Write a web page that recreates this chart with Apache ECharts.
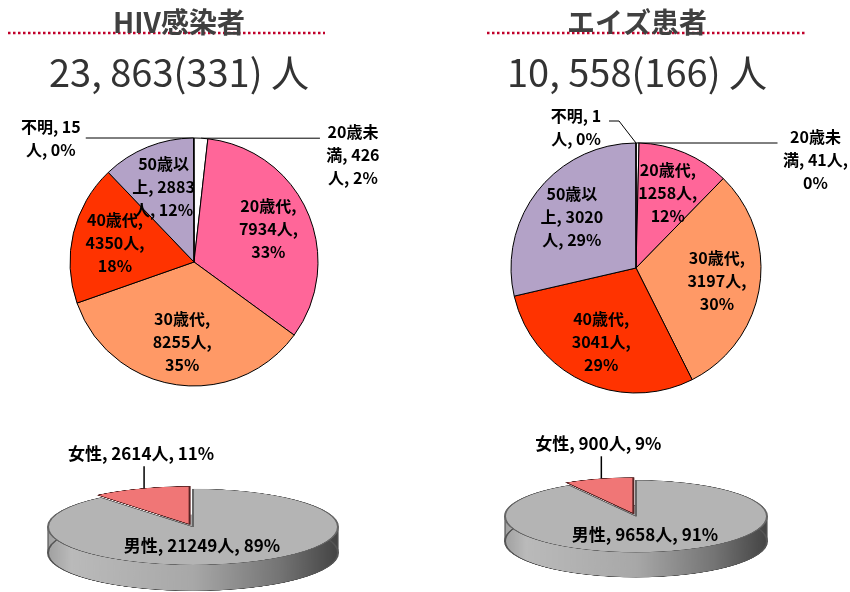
<!DOCTYPE html>
<html>
<head>
<meta charset="utf-8">
<script src="https://cdn.jsdelivr.net/npm/echarts@6/dist/echarts.min.js"></script>
<style>
body { margin: 0; background: #fff; }
#wrap { position: relative; width: 850px; height: 592px; overflow: hidden; }
#main { position: absolute; left: 0; top: 0; width: 850px; height: 592px; z-index: 2; }
.gender { position: absolute; transform-origin: 0 0; z-index: 1; }
</style>
</head>
<body>
<div id="wrap">
    <div class="gender" id="sexHiv"></div>
    <div class="gender" id="sexAids"></div>
    <div id="main"></div>
</div>
<script>
// データ
var ageNames = ['20歳未満', '20歳代', '30歳代', '40歳代', '50歳以上', '不明'];
var hivAge = [426, 7934, 8255, 4350, 2883, 15];
var aidsAge = [41, 1258, 3197, 3041, 3020, 1];
var sexNames = ['男性', '女性'];
var hivSex = [21249, 2614];
var aidsSex = [9658, 900];
var titles = ['HIV感染者', 'エイズ患者'];
var totals = ['23, 863(331) 人', '10, 558(166) 人'];

// ラベルの改行位置
var hivTpl = ['{t|20歳未}\n{t|満, {c}}\n{t|人, {d}%}', '{b},\n{c}人,\n{d}%', '{b},\n{c}人,\n{d}%',
    '{b},\n{c}人,\n{d}%', '50歳以\n上, {c}\n人, {d}%', '{t|{b}, {c}}\n{t|人, {d}%}'];
var aidsTpl = ['{t|20歳未}\n{t|満, {c}人,}\n{t|{d}%}', '{b},\n{c}人,\n{d}%', '{b},\n{c}人,\n{d}%',
    '{b},\n{c}人,\n{d}%', '50歳以\n上, {c}\n人, {d}%', '{t|{b}, {c}}\n{t|人, {d}%}'];

var FONT = '"Noto Sans CJK JP", "Noto Sans", sans-serif';
var LW = 'bold';
var ageColors = ['#FFFFFF', '#FF6699', '#FF9966', '#FF3300', '#B3A2C7', '#FFFFFF'];
var pieCenters = [[194, 262], [636, 268]];
var pieRadius = [124, 125];
var sexGeo = [
    {cx: 193, cy: 527, rx: 145, ry: 38, thick: 26},
    {cx: 636, cy: 516, rx: 131, ry: 36, thick: 25}
];

function agePie(idx, values, tpl, lenL, lenR, boxW) {
    var c = pieCenters[idx];
    return {
        type: 'pie',
        center: c,
        radius: pieRadius[idx],
        startAngle: 90,
        clockwise: true,
        avoidLabelOverlap: false,
        percentPrecision: 0,
        silent: true,
        itemStyle: {borderColor: '#000', borderWidth: 1},
        label: {position: 'inside', color: '#000', fontSize: 16, fontWeight: LW, lineHeight: 23, fontFamily: FONT},
        labelLine: {show: false},
        labelLayout: function (p) {
            if (p.dataIndex === 0 || p.dataIndex === 5) {
                if (idx === 1 && p.dataIndex === 5) {
                    // 不明ラベルは左上へ斜めに引き出す
                    var sx = c[0], sy = c[1] - pieRadius[idx];
                    return {
                        x: sx - 30, y: sy - 16, align: 'right',
                        labelLinePoints: [[sx, sy], [sx - 17, sy - 22], [sx - 27, sy - 22]]
                    };
                }
                return {};
            }
            var r = p.labelRect;
            var lx = r.x + r.width / 2, ly = r.y + r.height / 2;
            return {dx: (lx - c[0]) * 0.25, dy: (ly - c[1]) * 0.25};
        },
        data: values.map(function (v, i) {
            var d = {name: ageNames[i], value: v, itemStyle: {color: ageColors[i]}, label: {formatter: tpl[i]}};
            if (i === 0 || i === 5) {
                d.label.position = 'outside';
                d.label.distanceToLabelLine = 2;
                d.label.rich = {t: {width: boxW[i === 0 ? 0 : 1], align: 'center', fontSize: 16, fontWeight: LW, lineHeight: 23, color: '#000', fontFamily: FONT}};
                if (i === 0) d.label.padding = [34, 0, 0, 0];
                d.labelLine = {show: true, length: 0, length2: i === 0 ? lenR : lenL, lineStyle: {color: '#000', width: 1}};
            }
            return d;
        })
    };
}

function drawSex(id, data, g) {
    var s = g.ry / g.rx;
    var R = g.rx, W = 2 * R + 10, Hc = R + 30;
    var T = g.thick / s;
    var H = Hc + T + R + 10;
    var el = document.getElementById(id);
    el.style.left = (g.cx - W / 2) + 'px';
    el.style.top = (g.cy - Hc * s) + 'px';
    el.style.width = W + 'px';
    el.style.height = H + 'px';
    el.style.transform = 'scaleY(' + s + ')';
    var side = {
        type: 'linear', x: W / 2 - R, y: 0, x2: W / 2 + R, y2: 0, global: true,
        colorStops: [
            {offset: 0, color: '#a0a0a0'}, {offset: 0.08, color: '#bababa'},
            {offset: 0.5, color: '#a8a8a8'}, {offset: 0.8, color: '#747474'}, {offset: 1, color: '#444444'}
        ]
    };
    var chart = echarts.init(el);
    chart.setOption({
        animation: false,
        graphic: [{
            type: 'rect', z: 0,
            shape: {x: W / 2 - R, y: Hc, width: 2 * R, height: T},
            style: {fill: side, stroke: '#555', lineWidth: 1.2}
        }],
        series: [{
            type: 'pie', silent: true, center: [W / 2, Hc + T], radius: R, startAngle: 90,
            label: {show: false}, labelLine: {show: false},
            itemStyle: {color: side, borderColor: '#555', borderWidth: 2},
            data: data.map(function (v, i) { return {name: sexNames[i], value: v}; })
        }, {
            type: 'pie', silent: true, center: [W / 2, Hc], radius: R, startAngle: 90,
            selectedMode: 'single', selectedOffset: 10,
            label: {show: false}, labelLine: {show: false},
            itemStyle: {borderColor: '#666', borderWidth: 2},
            data: [
                {name: sexNames[0], value: data[0], itemStyle: {color: '#B4B4B4'}},
                {name: sexNames[1], value: data[1], selected: true, itemStyle: {color: '#F07676', borderColor: '#5a2424'}}
            ]
        }]
    });
}

drawSex('sexHiv', hivSex, sexGeo[0]);
drawSex('sexAids', aidsSex, sexGeo[1]);

function sexLabels(data, g) {
    var total = data[0] + data[1];
    var a = -(data[1] / total) * Math.PI;
    var px = g.cx + g.rx * Math.sin(a), py = g.cy - g.ry * Math.cos(a) - 3;
    var pct = function (v) { return Math.round(v / total * 100); };
    var st = {fontSize: 17, fontWeight: LW, fill: '#000', fontFamily: FONT, align: 'center', verticalAlign: 'middle'};
    return [
        {type: 'line', shape: {x1: px, y1: py, x2: px, y2: py - 22}, style: {stroke: '#000', lineWidth: 1.5}},
        {type: 'text', x: px - 3, y: py - 35, style: Object.assign({text: sexNames[1] + ', ' + data[1] + '人, ' + pct(data[1]) + '%'}, st)},
        {type: 'text', x: g.cx + 9, y: g.cy + 19, style: Object.assign({text: sexNames[0] + ', ' + data[0] + '人, ' + pct(data[0]) + '%'}, st)}
    ];
}

function header(i, cx, x1, x2) {
    return [
        {type: 'line', shape: {x1: x1, y1: 33, x2: x2, y2: 33}, style: {stroke: '#C0002A', lineWidth: 2.5, lineDash: [2.5, 2.5]}},
        {type: 'text', x: cx, y: 22, style: {text: titles[i], fontSize: 28, fontWeight: 'bold', fill: '#404040', fontFamily: FONT, align: 'center', verticalAlign: 'middle'}},
        {type: 'text', x: cx, y: 73, style: {text: totals[i], fontSize: 38, fill: '#333', fontFamily: FONT, align: 'center', verticalAlign: 'middle'}}
    ];
}

var myChart = echarts.init(document.getElementById('main'));
myChart.setOption({
    animation: false,
    graphic: [].concat(
        header(0, 179, 8, 325),
        header(1, 637, 487, 805),
        sexLabels(hivSex, sexGeo[0]),
        sexLabels(aidsSex, sexGeo[1])
    ),
    series: [
        agePie(0, hivAge, hivTpl, 108, 119, [62, 66]),
        agePie(1, aidsAge, aidsTpl, 108, 140, [72, 60])
    ]
});
</script>
</body>
</html>
